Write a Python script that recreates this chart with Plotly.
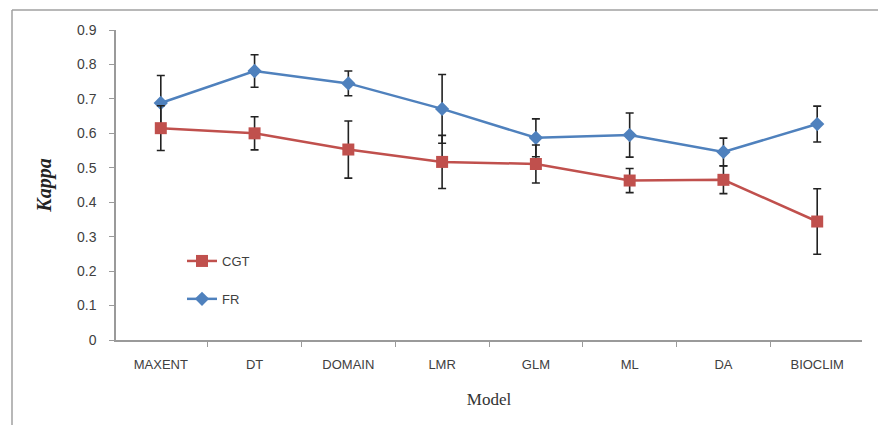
import plotly.graph_objects as go

models = ["MAXENT", "DT", "DOMAIN", "LMR", "GLM", "ML", "DA", "BIOCLIM"]
fr_vals = [0.688, 0.781, 0.745, 0.671, 0.587, 0.595, 0.546, 0.627]
fr_err = [0.080, 0.047, 0.036, 0.100, 0.055, 0.064, 0.040, 0.052]
cgt_vals = [0.615, 0.600, 0.553, 0.517, 0.511, 0.463, 0.465, 0.344]
cgt_err = [0.065, 0.048, 0.083, 0.077, 0.055, 0.035, 0.040, 0.095]
y_ticks = [0, 0.1, 0.2, 0.3, 0.4, 0.5, 0.6, 0.7, 0.8, 0.9]

W, H = 878, 425
L, R, T, B = 116, 16, 30, 85
pw, ph = W - L - R, H - T - B

def px(x):
    return (x - L) / pw

def py(y):
    return (H - B - y) / ph

fig = go.Figure()
fig.add_trace(go.Scatter(
    x=models, y=fr_vals, name="FR", mode="lines+markers",
    line=dict(color="#4F81BD", width=2.5),
    marker=dict(symbol="diamond", size=11, color="#4F81BD"),
    error_y=dict(type="data", array=fr_err, visible=True, color="#222222", thickness=1.6, width=4),
    legendgroup="b", legendrank=2,
))
fig.add_trace(go.Scatter(
    x=models, y=cgt_vals, name="CGT", mode="lines+markers",
    line=dict(color="#C0504D", width=2.5),
    marker=dict(symbol="square", size=12, color="#C0504D"),
    error_y=dict(type="data", array=cgt_err, visible=True, color="#222222", thickness=1.6, width=4),
    legendgroup="a", legendrank=1,
))

fig.update_layout(
    width=W, height=H,
    margin=dict(l=L, r=R, t=T, b=B),
    paper_bgcolor="white", plot_bgcolor="white",
    font=dict(family="Liberation Sans, Arial, sans-serif", size=13, color="#404040"),
    showlegend=True,
    legend=dict(x=px(182), y=py(246), xanchor="left", yanchor="top",
                bgcolor="rgba(0,0,0,0)", tracegroupgap=18,
                font=dict(size=13, color="#404040")),
    xaxis=dict(
        type="category", categoryorder="array", categoryarray=models,
        tickson="boundaries", ticks="outside", ticklen=5, tickcolor="#9a9a9a",
        showline=True, linecolor="#9a9a9a", linewidth=1.5, showgrid=False,
        ticklabelstandoff=12,
        tickfont=dict(size=13, color="#404040"),
        title=dict(text="Model", font=dict(family="Liberation Serif, Times New Roman, serif", size=17, color="#333333"), standoff=22),
    ),
    yaxis=dict(
        range=[0, 0.9], tickvals=y_ticks, ticks="outside", ticklen=5, tickcolor="#9a9a9a",
        showline=True, linecolor="#9a9a9a", linewidth=1.5, showgrid=False, zeroline=False,
        ticklabelstandoff=10,
        tickfont=dict(size=14, color="#404040"),
        title=dict(text="<b><i>Kappa</i></b>", font=dict(family="Liberation Serif, Times New Roman, serif", size=20, color="#222222"), standoff=20),
    ),
)

# outer frame: top and left edges only
fig.add_shape(type="line", xref="paper", yref="paper",
              x0=px(12), x1=px(878), y0=py(10), y1=py(10),
              line=dict(color="#a0a0a0", width=1.5), layer="below")
fig.add_shape(type="line", xref="paper", yref="paper",
              x0=px(12), x1=px(12), y0=py(10), y1=py(430),
              line=dict(color="#a0a0a0", width=1.5), layer="below")

fig.write_html("out.html", config={"displayModeBar": False},
               post_script="document.body.style.margin='0';document.body.style.overflow='hidden';")
